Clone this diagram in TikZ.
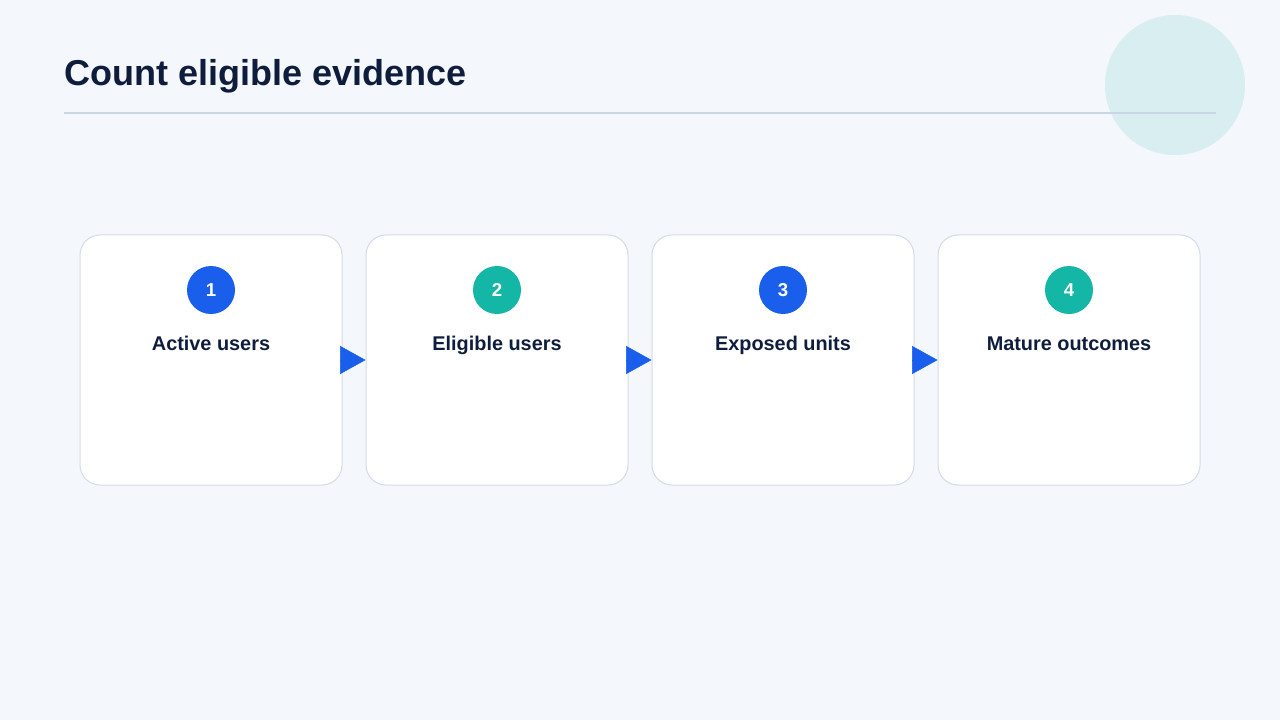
\documentclass[tikz,border=0pt]{standalone}
\usepackage{fontspec}
\setmainfont{Liberation Sans}
\usetikzlibrary{arrows.meta,positioning}
\definecolor{bg}{HTML}{F4F7FB}
\definecolor{navy}{HTML}{0F1D3D}
\definecolor{rule}{HTML}{CBD5E3}
\definecolor{cardline}{HTML}{D3DCE8}
\definecolor{blueA}{HTML}{1A5EEC}
\definecolor{tealA}{HTML}{14B7A5}
\definecolor{blob}{HTML}{D8EEF0}
\tikzset{
  x=0.75pt, y=-0.75pt,
  card/.style={draw=cardline, line width=0.75pt, fill=white, rounded corners=15pt,
    minimum width=196.5pt, minimum height=187.5pt, inner sep=0pt},
  badge/.style={circle, minimum size=36pt, inner sep=0pt, text=white,
    font=\fontsize{14pt}{16pt}\selectfont\bfseries},
  label/.style={text=navy, font=\fontsize{14.9pt}{17pt}\selectfont\bfseries, inner sep=0pt},
  flow/.style={draw=blueA, line width=0.3pt, -{Triangle[length=19pt,width=21pt,fill=blueA]}}
}
\begin{document}
\begin{tikzpicture}
\useasboundingbox[fill=bg] (0,0) rectangle (1280,720);
\fill[blob] (1175,85) circle[radius=70];
\node[anchor=base west, text=navy, font=\fontsize{27pt}{31pt}\selectfont\bfseries, inner sep=0pt] (title) at (64,86) {Count eligible evidence};
\coordinate (rl) at (64,113);
\coordinate (rr) at (1216,113);
\draw[rule, line width=1.2pt] (rl) -- (rr);
\foreach \i/\x/\c/\t in {1/211/blueA/Active users, 2/497/tealA/Eligible users, 3/783/blueA/Exposed units, 4/1069/tealA/Mature outcomes}{
  \node[card] (c\i) at (\x,360) {};
  \node[badge, fill=\c] (b\i) at (\x,290) {\raisebox{-1pt}{\i}};
  \node[label, anchor=base] (l\i) at (\x,350) {\t};
}
\draw[flow] (c1.east) -- (c2.west);
\draw[flow] (c2.east) -- (c3.west);
\draw[flow] (c3.east) -- (c4.west);
\end{tikzpicture}
\end{document}
